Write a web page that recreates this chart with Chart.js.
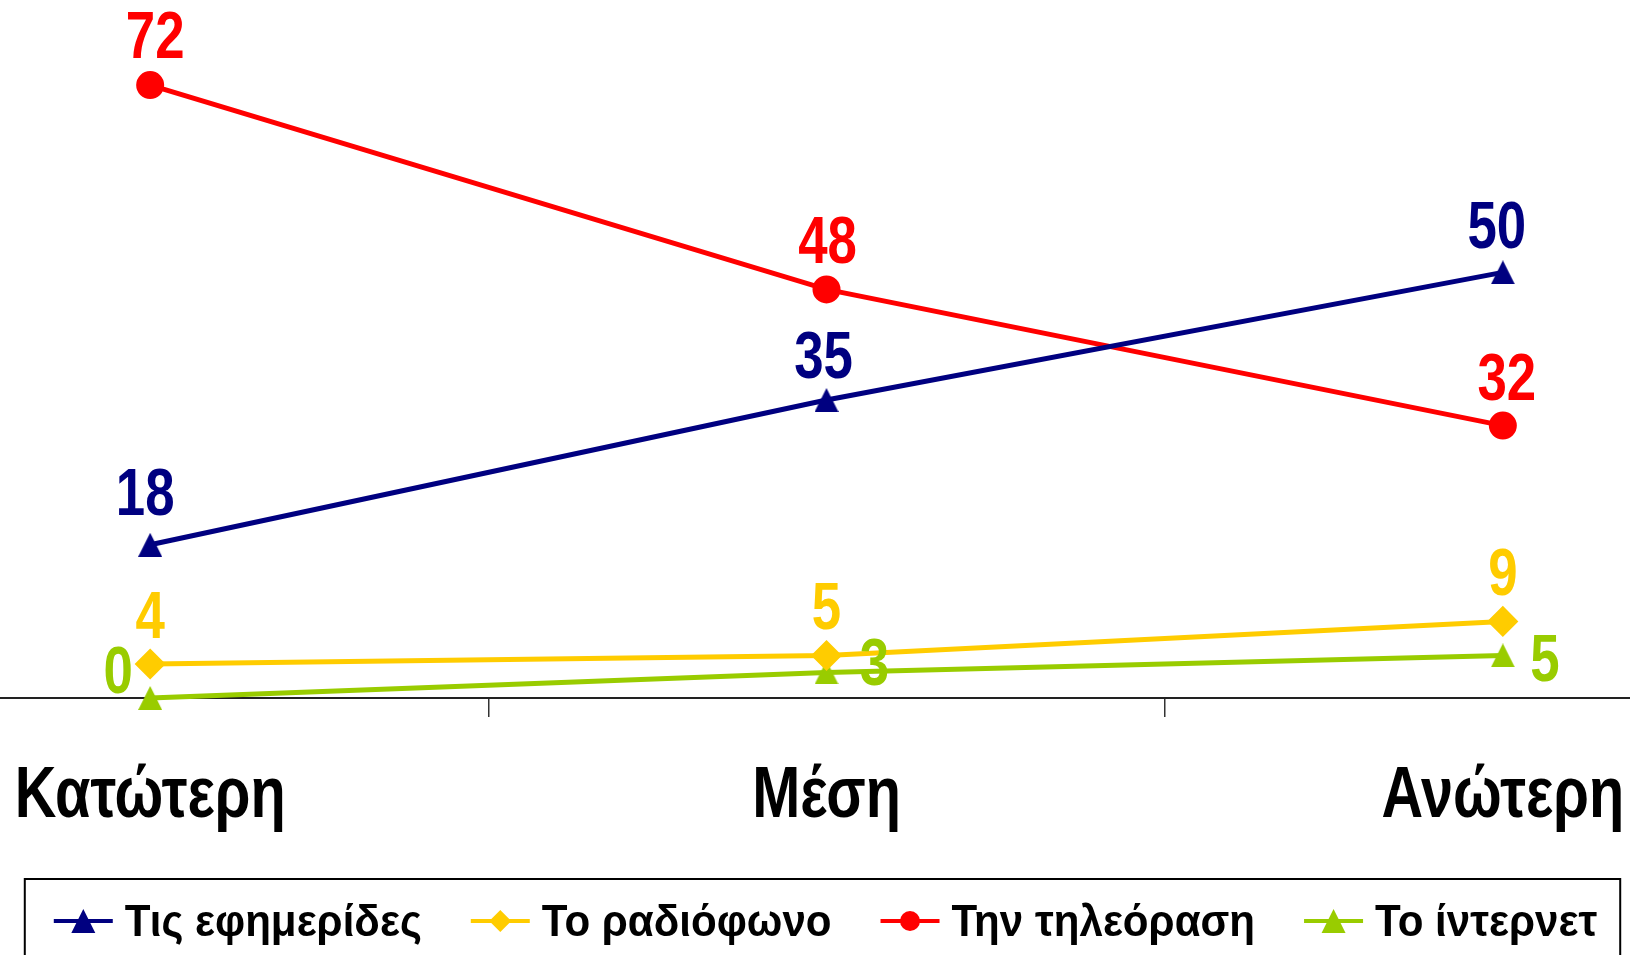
<!DOCTYPE html>
<html>
<head>
<meta charset="utf-8">
<script src="https://cdn.jsdelivr.net/npm/chart.js@4.4.1/dist/chart.umd.min.js"></script>
<style>
    html, body { margin: 0; padding: 0; background: #fff; overflow: hidden; width: 1630px; height: 955px; }
    /* the plot is wider than the page, like the cropped original */
    #wrap { position: absolute; left: -205px; top: 0; width: 2063px; height: 955px; }
</style>
</head>
<body>
<div id="wrap"><canvas id="chart"></canvas></div>
<script>
// =============================================
// DATA
// =============================================
const categories = ['Κατώτερη', 'Μέση', 'Ανώτερη'];
const seriesNames = ['Τις εφημερίδες', 'Το ραδιόφωνο', 'Την τηλεόραση', 'Το ίντερνετ'];
const newspapers = [18, 35, 50];
const radio = [4, 5, 9];
const television = [72, 48, 32];
const internet = [0, 3, 5];
const yMin = 0;
const yMax = 80;

const NAVY = '#000080';
const YELLOW = '#FFCC00';
const RED = '#FF0000';
const GREEN = '#99CC00';
const FONT = '"Liberation Sans", Arial, sans-serif';

// =============================================
// MARKERS — Excel style triangles centred on their box
// =============================================
function triangleImage(color, size) {
    const c = document.createElement('canvas');
    c.width = size; c.height = size;
    const ctx = c.getContext('2d');
    ctx.fillStyle = color;
    ctx.beginPath();
    ctx.moveTo(size / 2, 0); ctx.lineTo(size, size); ctx.lineTo(0, size);
    ctx.closePath(); ctx.fill();
    return c;
}

function drawMarker(ctx, style, color, x, y) {
    ctx.fillStyle = color;
    ctx.beginPath();
    if (style === 'tri') {
        ctx.moveTo(x, y - 12); ctx.lineTo(x + 12, y + 12); ctx.lineTo(x - 12, y + 12);
    } else if (style === 'diamond') {
        ctx.moveTo(x, y - 11); ctx.lineTo(x + 11, y); ctx.lineTo(x, y + 11); ctx.lineTo(x - 11, y);
    } else {
        ctx.arc(x, y, 10, 0, Math.PI * 2);
    }
    ctx.closePath();
    ctx.fill();
}

// narrow bold text: the original uses a condensed face
function condensedText(ctx, text, x, y, size, sx, align) {
    ctx.save();
    ctx.font = 'bold ' + size + 'px ' + FONT;
    ctx.textBaseline = 'alphabetic';
    ctx.textAlign = 'left';
    const w = ctx.measureText(text).width * sx;
    let left = x;
    if (align === 'center') left = x - w / 2;
    if (align === 'right') left = x - w;
    ctx.translate(left, y);
    ctx.scale(sx, 1);
    ctx.fillText(text, 0, 0);
    ctx.restore();
    return w;
}

function textWidth(ctx, text, size, sx) {
    ctx.save();
    ctx.font = 'bold ' + size + 'px ' + FONT;
    const w = ctx.measureText(text).width * sx;
    ctx.restore();
    return w;
}

// =============================================
// PLUGINS — value labels, category labels, legend
// =============================================
const valueLabels = {
    id: 'valueLabels',
    afterDatasetsDraw(chart) {
        const ctx = chart.ctx;
        chart.data.datasets.forEach((ds, i) => {
            const meta = chart.getDatasetMeta(i);
            ctx.fillStyle = ds.borderColor;
            meta.data.forEach((pt, j) => {
                const off = ds.labelOffset ? ds.labelOffset(j) : [0, -26];
                condensedText(ctx, String(ds.data[j]), pt.x + off[0], pt.y + off[1], 66, 0.8, 'center');
            });
        });
    }
};

const categoryLabels = {
    id: 'categoryLabels',
    afterDraw(chart) {
        const ctx = chart.ctx;
        const xs = chart.scales.x;
        ctx.fillStyle = '#000';
        chart.data.labels.forEach((lbl, i) => {
            condensedText(ctx, lbl, xs.getPixelForTick(i), chart.chartArea.bottom + 119, 73, 0.79, 'center');
        });
    }
};

const boxedLegend = {
    id: 'boxedLegend',
    afterDraw(chart) {
        const ctx = chart.ctx;
        const size = 44, sx = 0.957, lineLen = 59, textGap = 12, itemGap = 49;
        const items = chart.data.datasets.map(ds => ({
            ds, w: lineLen + textGap + textWidth(ctx, ds.label, size, sx),
        }));
        const total = items.reduce((s, it) => s + it.w, 0) + itemGap * (items.length - 1);
        const cx = (chart.chartArea.left + chart.chartArea.right) / 2 - 1;
        const cy = chart.chartArea.bottom + 223;
        let x = cx - total / 2;
        const start = x;

        items.forEach(({ ds, w }) => {
            ctx.save();
            ctx.strokeStyle = ds.borderColor;
            ctx.lineWidth = 4;
            ctx.beginPath(); ctx.moveTo(x, cy); ctx.lineTo(x + lineLen, cy); ctx.stroke();
            drawMarker(ctx, ds.legendMarker, ds.borderColor, x + lineLen / 2, cy);
            ctx.fillStyle = '#000';
            condensedText(ctx, ds.label, x + lineLen + textGap, cy + 15, size, sx, 'left');
            ctx.restore();
            x += w + itemGap;
        });

        const right = x - itemGap + 23;
        const left = start - 29;
        const top = chart.chartArea.bottom + 181;
        ctx.save();
        ctx.strokeStyle = '#000';
        ctx.lineWidth = 2;
        ctx.strokeRect(left, top, right - left, 200);
        ctx.restore();
    }
};

// =============================================
// CHART
// =============================================
new Chart(document.getElementById('chart'), {
    type: 'line',
    data: {
        labels: categories,
        datasets: [
            { label: seriesNames[0], data: newspapers, borderColor: NAVY, backgroundColor: NAVY, borderWidth: 5,
              pointStyle: triangleImage(NAVY, 24), legendMarker: 'tri', labelOffset: j => [[-5, -30], [-3, -22], [-6, -24]][j] },
            { label: seriesNames[1], data: radio, borderColor: YELLOW, backgroundColor: YELLOW, borderWidth: 5,
              pointStyle: 'rectRot', pointRadius: 12, legendMarker: 'diamond' },
            { label: seriesNames[2], data: television, borderColor: RED, backgroundColor: RED, borderWidth: 5,
              pointStyle: 'circle', pointRadius: 11.5, legendMarker: 'circle', labelOffset: j => [[5, -27], [1, -26], [4, -26]][j] },
            { label: seriesNames[3], data: internet, borderColor: GREEN, backgroundColor: GREEN, borderWidth: 5,
              pointStyle: triangleImage(GREEN, 24), legendMarker: 'tri',
              labelOffset: j => [[-32, -5], [48, 13], [42, 26]][j] },
        ],
    },
    options: {
        responsive: true,
        maintainAspectRatio: false,
        animation: false,
        layout: { padding: { top: 16, left: 0, right: 0, bottom: 238 } },
        elements: {
            line: { tension: 0 },
            point: { borderWidth: 0, hoverRadius: 12 },
        },
        datasets: { line: { clip: false } },
        scales: {
            x: {
                offset: true,
                grid: { offset: true, drawOnChartArea: false, drawTicks: true, tickLength: 19, color: '#333', lineWidth: 1.5 },
                border: { color: '#222', width: 2 },
                ticks: { display: false },
            },
            y: { display: false, min: yMin, max: yMax },
        },
        plugins: {
            tooltip: { enabled: false },
            legend: { display: false },
        },
    },
    plugins: [valueLabels, categoryLabels, boxedLegend],
});
</script>
</body>
</html>
